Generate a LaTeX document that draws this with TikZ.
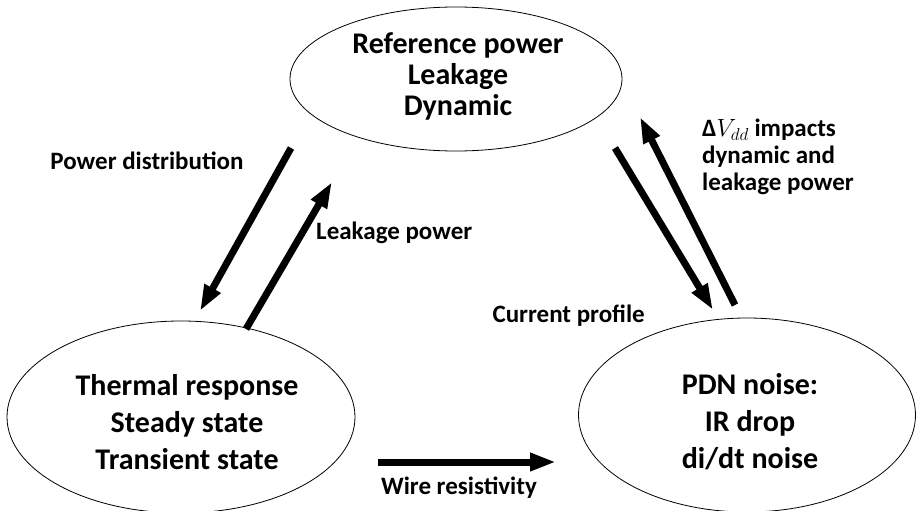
\documentclass[tikz,border=0pt]{standalone}
\usepackage{fontspec}
\setmainfont{Carlito}
\usetikzlibrary{arrows.meta,shapes.geometric}
\begin{document}
\begin{tikzpicture}[x=1pt,y=-1pt,
  bubble/.style={ellipse,draw=black,line width=0.8pt,inner sep=0pt},
  btext/.style={inner sep=0pt,align=center,font=\fontsize{30}{37}\selectfont\bfseries},
  lbl/.style={inner sep=0pt,font=\fontsize{25}{27}\selectfont\bfseries},
  arr/.style={line width=7pt,-{Triangle[length=26pt,width=17pt]}}]
\useasboundingbox (0,0) rectangle (922,511);
% ellipses
\node[bubble,minimum width=332pt,minimum height=144pt] (ref) at (456,79) {};
\node[btext,font=\fontsize{30}{31}\selectfont\bfseries] (reftxt) at (458,76)
  {Reference power\\Leakage\\Dynamic};
\node[bubble,minimum width=348pt,minimum height=192pt] (therm) at (181,417) {};
\node[btext] (thermtxt) at (187,422)
  {Thermal response\\Steady state\\Transient state};
\node[bubble,minimum width=337pt,minimum height=194pt] (pdn) at (747,415) {};
\node[btext] (pdntxt) at (750,422)
  {PDN noise:\\IR drop\\di/dt noise};
% arrow end points
\coordinate (pdA) at (291,148);
\coordinate (pdB) at (200,311);
\coordinate (lpA) at (246,329);
\coordinate (lpB) at (332,182);
\coordinate (cpA) at (615,148);
\coordinate (cpB) at (713,310);
\coordinate (dvA) at (735,305);
\coordinate (dvB) at (640,117);
\coordinate (wrA) at (378,462);
\coordinate (wrB) at (556,462);
% arrows
\draw[arr] (pdA) -- (pdB);
\draw[arr] (lpA) -- (lpB);
\draw[arr] (cpA) -- (cpB);
\draw[arr] (dvA) -- (dvB);
\draw[arr] (wrA) -- (wrB);
% labels
\node[lbl] (pdl) at (147,161) {Power distribution};
\node[lbl,anchor=west] (lpl) at (316,233) {Leakage power};
\node[lbl,anchor=east] (cpl) at (645,316) {Current profile};
\node[lbl,anchor=west,align=left] (dvl) at (702,157)
  {{\bfseries Δ}$V_{dd}$ impacts\\dynamic and\\leakage power};
\node[lbl] (wrl) at (459,488) {Wire resistivity};
\end{tikzpicture}
\end{document}
